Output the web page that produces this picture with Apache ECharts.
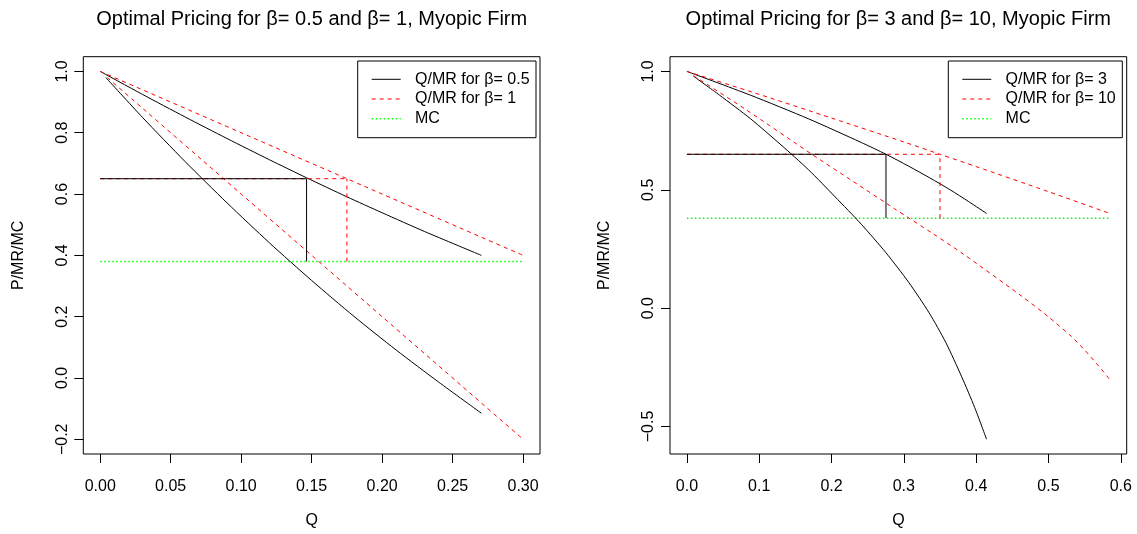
<!DOCTYPE html>
<html><head><meta charset="utf-8">
<script src="https://cdn.jsdelivr.net/npm/echarts@6/dist/echarts.min.js"></script>
<style>html,body{margin:0;padding:0;background:#fff}#c{width:1137px;height:534px}</style>
</head><body><div id="c"></div>
<script>
// ---------- Left panel data (beta = 0.5 and beta = 1) ----------
const b05DemandQ = [0, 0.03, 0.06, 0.09, 0.12, 0.1464, 0.175, 0.2, 0.23, 0.2704];
const b05DemandP = [1, 0.925, 0.852, 0.781, 0.712, 0.653, 0.591, 0.539, 0.478, 0.400];
const b05MRQ = [0.004, 0.03, 0.06, 0.09, 0.12, 0.15, 0.18, 0.21, 0.24, 0.2704];
const b05MR  = [0.980, 0.850, 0.707, 0.571, 0.441, 0.318, 0.201, 0.091, -0.013, -0.115];
const b1DemandQ = [0, 0.1, 0.2, 0.3];
const b1DemandP = [1, 0.8, 0.6, 0.4];
const b1MRQ = [0.005, 0.1, 0.2, 0.3];
const b1MR  = [0.98, 0.6, 0.2, -0.2];
const leftOptQ = [0.1464, 0.175];     // beta 0.5, beta 1
const leftMCQ = [0, 0.3];

// ---------- Right panel data (beta = 3 and beta = 10) ----------
const b3DemandQ = [0, 0.0876, 0.168, 0.241, 0.2753, 0.3065, 0.336, 0.364, 0.3897, 0.4144];
const b3DemandP = [1, 0.9, 0.8, 0.7, 0.65, 0.6, 0.55, 0.5, 0.45, 0.4];
const b3MRQ = [0.009, 0.045, 0.088, 0.13, 0.168, 0.205, 0.241, 0.275, 0.3065, 0.335, 0.358, 0.38, 0.398, 0.4144];
const b3MR  = [0.980, 0.90, 0.80, 0.69, 0.585, 0.47, 0.355, 0.235, 0.11, -0.02, -0.145, -0.29, -0.42, -0.554];
const b10DemandQ = [0, 0.1, 0.2, 0.3, 0.35, 0.4, 0.5, 0.5848];
const b10DemandP = [1, 0.903, 0.803, 0.702, 0.65, 0.598, 0.492, 0.4];
const b10MRQ = [0.009, 0.08, 0.1727, 0.23, 0.2877, 0.34, 0.382, 0.4628, 0.5, 0.5318, 0.5479, 0.5696, 0.5848];
const b10MR  = [0.982, 0.842, 0.65, 0.535, 0.419, 0.315, 0.229, 0.051, -0.037, -0.12, -0.17, -0.245, -0.3016];
const rightOptQ = [0.2753, 0.35];     // beta 3, beta 10
const rightMCQ = [0, 0.5848];

const optPrice = 0.65;
const mc = 0.38;

// ---------- Tick labels ----------
const leftXTicks = [0, 0.05, 0.10, 0.15, 0.20, 0.25, 0.30];
const leftYTicks = [-0.2, 0.0, 0.2, 0.4, 0.6, 0.8, 1.0];
const rightXTicks = [0, 0.1, 0.2, 0.3, 0.4, 0.5, 0.6];
const rightYTicks = [-0.5, 0.0, 0.5, 1.0];

const titles = ['Optimal Pricing for \u03b2= 0.5 and \u03b2= 1, Myopic Firm',
                'Optimal Pricing for \u03b2= 3 and \u03b2= 10, Myopic Firm'];
const legendLeft = ['Q/MR for \u03b2= 0.5', 'Q/MR for \u03b2= 1', 'MC'];
const legendRight = ['Q/MR for \u03b2= 3', 'Q/MR for \u03b2= 10', 'MC'];

// ---------- Build ----------
const FONT = 'Liberation Sans, Arial, Helvetica, sans-serif';
const zip = (xs, ys) => xs.map((x, i) => [x, ys[i]]);
const fmt = d => v => v.toFixed(d).replace('-', '\u2212');

const SOLID = {color: '#000000', width: 1, type: 'solid'};
const DASH = {color: '#ff0000', width: 1, type: [4, 4]};
const DOT = {color: '#00ff00', width: 1.5, type: [1.5, 2.5]};

function ln(idx, data, style, smooth) {
  return {type: 'line', xAxisIndex: idx, yAxisIndex: idx, data: data, showSymbol: false,
          symbol: 'none', smooth: smooth ? 0.25 : false, clip: false,
          lineStyle: style, silent: true, animation: false};
}

function panelSeries(idx, dQ1, dP1, mQ1, m1, dQ2, dP2, mQ2, m2, optQ, mcQ) {
  return [
    ln(idx, zip(mcQ, [mc, mc]), DOT, false),
    ln(idx, zip(dQ1, dP1), SOLID, true),
    ln(idx, zip(mQ1, m1), SOLID, true),
    ln(idx, zip(dQ2, dP2), DASH, true),
    ln(idx, zip(mQ2, m2), DASH, true),
    ln(idx, [[0, optPrice], [optQ[1], optPrice]], DASH, false),
    ln(idx, [[optQ[1], mc], [optQ[1], optPrice]], DASH, false),
    ln(idx, [[0, optPrice], [optQ[0], optPrice]], SOLID, false),
    ln(idx, [[optQ[0], mc], [optQ[0], optPrice]], SOLID, false)
  ];
}

function xAxis(idx, min, max, ticks, dec) {
  return {gridIndex: idx, type: 'value', min: min, max: max,
    axisLine: {show: false, onZero: false}, splitLine: {show: false},
    axisTick: {show: true, inside: false, length: 9, customValues: ticks, lineStyle: {color: '#000'}},
    axisLabel: {customValues: ticks, formatter: fmt(dec), margin: 25, color: '#000', fontSize: 16, fontFamily: FONT},
    name: 'Q', nameLocation: 'middle', nameGap: 59,
    nameTextStyle: {color: '#000', fontSize: 16, fontFamily: FONT}};
}
function yAxis(idx, min, max, ticks) {
  return {gridIndex: idx, type: 'value', min: min, max: max,
    axisLine: {show: false, onZero: false}, splitLine: {show: false},
    axisTick: {show: true, inside: false, length: 9, customValues: ticks, lineStyle: {color: '#000'}},
    axisLabel: {customValues: ticks, formatter: fmt(1), rotate: 90, margin: 13, color: '#000', fontSize: 16, fontFamily: FONT},
    name: 'P/MR/MC', nameLocation: 'middle', nameGap: 57, nameRotate: 90,
    nameTextStyle: {color: '#000', fontSize: 16, fontFamily: FONT}};
}

function legendGraphics(x, y, w, h, labels) {
  const styles = [SOLID, DASH, DOT];
  const rows = [y + 18.3, y + 38, y + 57.7];
  const els = [{type: 'rect', z: 100, shape: {x: x, y: y, width: w, height: h},
                style: {fill: '#fff', stroke: '#000', lineWidth: 1}}];
  labels.forEach((t, i) => {
    els.push({type: 'line', z: 101, shape: {x1: x + 14, y1: rows[i], x2: x + 43, y2: rows[i]},
              style: {stroke: styles[i].color, lineWidth: styles[i].width, lineDash: styles[i].type === 'solid' ? null : styles[i].type}});
    els.push({type: 'text', z: 101, x: x + 57.3, y: rows[i],
              style: {text: t, fill: '#000', font: '16px ' + FONT, textVerticalAlign: 'middle', textAlign: 'left'}});
  });
  return els;
}

const chart = echarts.init(document.getElementById('c'), null, {renderer: 'canvas'});
chart.setOption({
  animation: false,
  backgroundColor: '#ffffff',
  grid: [
    {left: 83.3, top: 56.7, width: 456.7, height: 399.3, show: true, borderColor: '#000', borderWidth: 1, backgroundColor: 'transparent'},
    {left: 670, top: 56.7, width: 456.7, height: 399.3, show: true, borderColor: '#000', borderWidth: 1, backgroundColor: 'transparent'}
  ],
  xAxis: [xAxis(0, -0.012, 0.312, leftXTicks, 2), xAxis(1, -0.0234, 0.6082, rightXTicks, 1)],
  yAxis: [yAxis(0, -0.248, 1.048, leftYTicks), yAxis(1, -0.6162, 1.0622, rightYTicks)],
  series: [].concat(
    panelSeries(0, b05DemandQ, b05DemandP, b05MRQ, b05MR, b1DemandQ, b1DemandP, b1MRQ, b1MR, leftOptQ, leftMCQ),
    panelSeries(1, b3DemandQ, b3DemandP, b3MRQ, b3MR, b10DemandQ, b10DemandP, b10MRQ, b10MR, rightOptQ, rightMCQ)
  ),
  graphic: [].concat(
    [{type: 'text', x: 311.7, y: 19, style: {text: titles[0], fill: '#000', font: '20px ' + FONT, textAlign: 'center', textVerticalAlign: 'middle'}},
     {type: 'text', x: 898.3, y: 19, style: {text: titles[1], fill: '#000', font: '20px ' + FONT, textAlign: 'center', textVerticalAlign: 'middle'}}],
    legendGraphics(357.7, 61, 178.3, 76.7, legendLeft),
    legendGraphics(948.3, 61, 174, 76.7, legendRight)
  )
});
</script>
</body></html>
